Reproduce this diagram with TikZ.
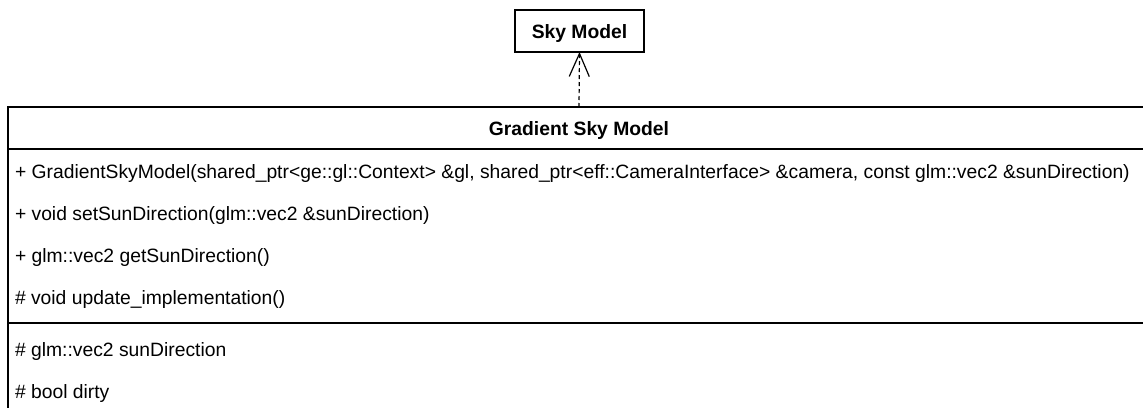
\documentclass[tikz,border=0pt]{standalone}
\usepackage{fontspec}
\setmainfont{Liberation Sans}
\usetikzlibrary{arrows.meta}
\begin{document}
\begin{tikzpicture}[x=1pt,y=-1pt,
  every node/.style={inner sep=0pt, outer sep=0pt},
  box/.style={draw, line width=1.3pt, fill=white},
  member/.style={anchor=base west, font=\fontsize{19.3}{23}\selectfont},
  title/.style={anchor=base, font=\fontsize{19.3}{23}\selectfont\bfseries},
  dep/.style={line width=1.2pt, dash pattern=on 4pt off 3pt, -{Straight Barb[length=23pt,width=20pt,line width=1.2pt]}}
]
\useasboundingbox (0,0) rectangle (1143,407);
\fill[white] (0,0) rectangle (1143,407);
\clip (0,0) rectangle (1143,407);
\node[box, minimum width=129pt, minimum height=42pt] (sky) at (579.5,31) {};
\node[title] (skyt) at (579.5,38) {Sky Model};
\node[box, anchor=north west, minimum width=1142pt, minimum height=330pt] (gsm) at (8,107) {};
\draw[line width=1.3pt] (8,149) coordinate (h1) -- (1150,149) coordinate (h2);
\draw[line width=1.3pt] (8,323) coordinate (d1) -- (1150,323) coordinate (d2);
\node[title] (gsmt) at (579,135) {Gradient Sky Model};
\node[member] (m1) at (15,178) {+ GradientSkyModel(shared\_ptr<ge::gl::Context> \&gl, shared\_ptr<eff::CameraInterface> \&camera, const glm::vec2 \&sunDirection)};
\node[member] (m2) at (15,220) {+ void setSunDirection(glm::vec2 \&sunDirection)};
\node[member] (m3) at (15,262) {+ glm::vec2 getSunDirection()};
\node[member] (m4) at (15,304) {\# void update\_implementation()};
\node[member] (a1) at (15,356) {\# glm::vec2 sunDirection};
\node[member] (a2) at (15,398) {\# bool dirty};
\draw[dep] (gsm.north) -- (sky.south);
\end{tikzpicture}
\end{document}
